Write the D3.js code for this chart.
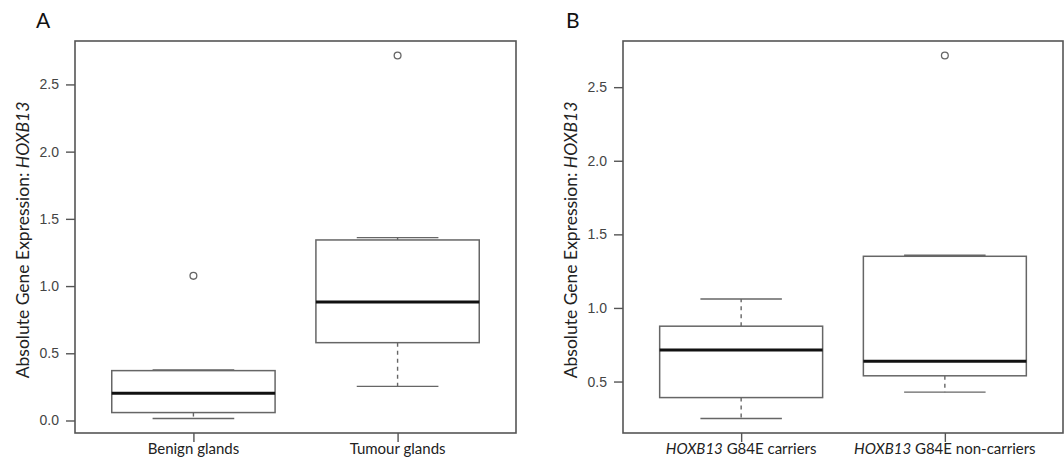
<!DOCTYPE html>
<html>
<head>
<meta charset="utf-8">
<script src="https://cdn.jsdelivr.net/npm/d3@7/dist/d3.min.js"></script>
<style>
  html, body { margin: 0; padding: 0; background: #fff; }
  svg { display: block; }
</style>
</head>
<body>
<svg id="chart" width="1064" height="469"></svg>
<script>
// ---------- Data ----------
const panelA_categories = ["Benign glands", "Tumour glands"];
const panelA_lowerWhisker = [0.015, 0.254];
const panelA_q1 = [0.059, 0.579];
const panelA_median = [0.203, 0.881];
const panelA_q3 = [0.371, 1.343];
const panelA_upperWhisker = [0.376, 1.360];
const panelA_outliers = [[1.076], [2.715]];
const panelA_yTicks = [0.0, 0.5, 1.0, 1.5, 2.0, 2.5];

const panelB_categories = ["HOXB13 G84E carriers", "HOXB13 G84E non-carriers"];
const panelB_lowerWhisker = [0.249, 0.428];
const panelB_q1 = [0.391, 0.539];
const panelB_median = [0.715, 0.638];
const panelB_q3 = [0.876, 1.351];
const panelB_upperWhisker = [1.061, 1.358];
const panelB_outliers = [[], [2.715]];
const panelB_yTicks = [0.5, 1.0, 1.5, 2.0, 2.5];

const yTitleMain = "Absolute Gene Expression: ";
const yTitleGene = "HOXB13";
const panelLetters = ["A", "B"];

// ---------- Drawing ----------
const svg = d3.select("#chart");
const labelFont = "Lato, 'Open Sans', sans-serif";
const tickFont = "'Liberation Sans', Arial, sans-serif";

function drawPanel(cfg) {
  const { left, right, top, bottom, cats, lw, q1, med, q3, uw, outs, ticks, letter, letterX } = cfg;
  const g = svg.append("g");

  const allVals = [].concat(lw, uw, ...outs);
  const lo = d3.min(allVals), hi = d3.max(allVals);
  const pad = 0.04 * (hi - lo);
  const y = d3.scaleLinear().domain([lo - pad, hi + pad]).range([bottom, top]);
  const x = d3.scaleLinear().domain([0.42, 2.58]).range([left, right]);
  const boxHalf = 0.4, capHalf = 0.2;

  const boxStroke = "#666";

  cats.forEach((c, i) => {
    const pos = i + 1;
    // dashed whiskers
    g.append("line")
      .attr("x1", x(pos)).attr("x2", x(pos))
      .attr("y1", y(q3[i])).attr("y2", y(uw[i]))
      .attr("stroke", boxStroke).attr("stroke-width", 1.4)
      .attr("stroke-dasharray", "4,4");
    g.append("line")
      .attr("x1", x(pos)).attr("x2", x(pos))
      .attr("y1", y(q1[i])).attr("y2", y(lw[i]))
      .attr("stroke", boxStroke).attr("stroke-width", 1.4)
      .attr("stroke-dasharray", "4,4");
    // staples
    [lw[i], uw[i]].forEach(v => {
      g.append("line")
        .attr("x1", x(pos - capHalf)).attr("x2", x(pos + capHalf))
        .attr("y1", y(v)).attr("y2", y(v))
        .attr("stroke", boxStroke).attr("stroke-width", 1.4);
    });
    // box
    g.append("rect")
      .attr("x", x(pos - boxHalf)).attr("width", x(pos + boxHalf) - x(pos - boxHalf))
      .attr("y", y(q3[i])).attr("height", y(q1[i]) - y(q3[i]))
      .attr("fill", "white").attr("stroke", boxStroke).attr("stroke-width", 1.5);
    // median
    g.append("line")
      .attr("x1", x(pos - boxHalf)).attr("x2", x(pos + boxHalf))
      .attr("y1", y(med[i])).attr("y2", y(med[i]))
      .attr("stroke", "#111").attr("stroke-width", 3);
    // outliers
    outs[i].forEach(v => {
      g.append("circle")
        .attr("cx", x(pos)).attr("cy", y(v)).attr("r", 3.4)
        .attr("fill", "none").attr("stroke", boxStroke).attr("stroke-width", 1.3);
    });
  });

  // frame
  g.append("rect")
    .attr("x", left).attr("y", top)
    .attr("width", right - left).attr("height", bottom - top)
    .attr("fill", "none").attr("stroke", "#555").attr("stroke-width", 1.6);

  // y axis
  const yAxis = d3.axisLeft(y).tickValues(ticks).tickSize(9).tickPadding(7)
    .tickFormat(d3.format(".1f"));
  const ya = g.append("g").attr("transform", `translate(${left},0)`).call(yAxis);
  ya.select(".domain").remove();
  ya.selectAll(".tick line").attr("stroke", "#555").attr("stroke-width", 1.4);
  ya.selectAll(".tick text").attr("font-family", tickFont).attr("font-size", 14)
    .attr("fill", "#444");

  // x axis
  const xAxis = d3.axisBottom(x).tickValues([1, 2]).tickSize(9).tickFormat("");
  const xa = g.append("g").attr("transform", `translate(0,${bottom})`).call(xAxis);
  xa.select(".domain").remove();
  xa.selectAll(".tick line").attr("stroke", "#555").attr("stroke-width", 1.4);

  // category labels (gene names italic)
  cats.forEach((c, i) => {
    const t = g.append("text")
      .attr("x", x(i + 1)).attr("y", 454)
      .attr("text-anchor", "middle")
      .attr("font-family", labelFont).attr("font-size", 15).attr("fill", "#222");
    const m = c.match(/^(HOXB13)(.*)$/);
    if (m) {
      t.append("tspan").attr("font-style", "italic").text(m[1]);
      t.append("tspan").text(m[2]);
    } else {
      t.text(c);
    }
  });

  // y title
  const ty = (top + bottom) / 2 + 3;
  const tx = left - 53;
  const tt = g.append("text")
    .attr("transform", `translate(${tx},${ty}) rotate(-90)`)
    .attr("text-anchor", "middle").attr("dominant-baseline", "central")
    .attr("font-family", labelFont).attr("font-size", 17.5).attr("fill", "#222");
  tt.append("tspan").text(yTitleMain);
  tt.append("tspan").attr("font-style", "italic").text(yTitleGene);

  // panel letter
  svg.append("text").attr("x", letterX).attr("y", 28)
    .attr("font-family", labelFont).attr("font-size", 21).attr("fill", "#111")
    .text(letter);
}

drawPanel({
  left: 75, right: 516, top: 41, bottom: 433,
  cats: panelA_categories, lw: panelA_lowerWhisker, q1: panelA_q1, med: panelA_median,
  q3: panelA_q3, uw: panelA_upperWhisker, outs: panelA_outliers, ticks: panelA_yTicks,
  letter: panelLetters[0], letterX: 36
});
drawPanel({
  left: 623, right: 1063, top: 41, bottom: 433,
  cats: panelB_categories, lw: panelB_lowerWhisker, q1: panelB_q1, med: panelB_median,
  q3: panelB_q3, uw: panelB_upperWhisker, outs: panelB_outliers, ticks: panelB_yTicks,
  letter: panelLetters[1], letterX: 566
});
</script>
</body>
</html>
